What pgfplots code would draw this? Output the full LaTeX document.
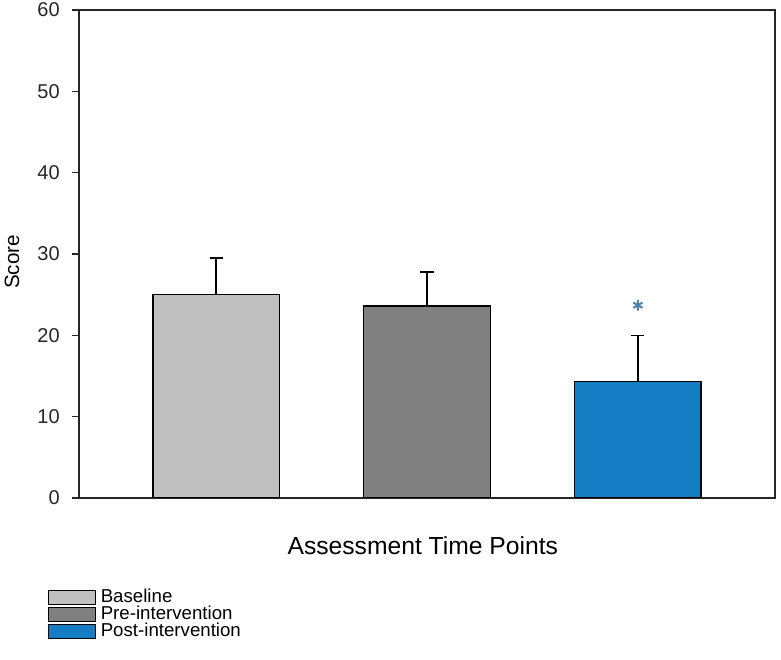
\documentclass[border=0pt]{standalone}
\usepackage{pgfplots}
\pgfplotsset{compat=1.18}
\usepackage{fontspec}
\setmainfont{Liberation Sans}
\usetikzlibrary{calc}
\definecolor{cBase}{RGB}{192,192,192}
\definecolor{cPre}{RGB}{128,128,128}
\definecolor{cPost}{RGB}{20,125,195}
\definecolor{cStar}{RGB}{70,130,180}
\begin{document}
\begin{tikzpicture}
\begin{axis}[
  scale only axis,
  width=522pt, height=366pt,
  xmin=0.35, xmax=3.65,
  ymin=0, ymax=60,
  xtick=\empty,
  ytick={0,10,...,60},
  ytick pos=left,
  tick align=outside,
  major tick length=5.25pt,
  axis line style={line width=1.2pt, black!85},
  every tick/.style={line width=1.2pt, black!85},
  /pgf/number format/assume math mode=true,
  yticklabel style={font=\fontsize{15pt}{17pt}\selectfont, color=black!85, inner sep=0pt, xshift=-9pt},
  ylabel={Score},
  ylabel style={font=\fontsize{15.5pt}{17pt}\selectfont, at={(axis description cs:-0.0963,0.484)}, anchor=center},
  xlabel={Assessment Time Points},
  xlabel style={font=\fontsize{18.5pt}{21pt}\selectfont, at={(rel axis cs:0.494,0)}, anchor=center, yshift=-36pt},
  legend cell align=left,
  legend style={at={(rel axis cs:0,0)}, anchor=north west, xshift=-23.25pt, yshift=-69pt,
    draw=none, fill=none, inner sep=0pt, row sep=1.6pt, column sep=3.5pt,
    font=\fontsize{14pt}{15pt}\selectfont,
    nodes={inner sep=0pt, text height=9pt, text depth=1.8pt, anchor=west}},
  legend image code/.code={\draw[#1, draw=black, line width=0.9pt] (0pt,-5pt) rectangle (35pt,5.2pt);},
  error bars/y dir=plus,
  error bars/y explicit,
  error bars/error bar style={line width=1.2pt, black},
  error bars/error mark options={rotate=90, mark size=4.9pt, line width=1.2pt, black},
]
\addplot[ybar, bar shift=0pt, bar width=0.6, fill=cBase, draw=black, line width=1.1pt]
  coordinates {(1,25.0) +- (0,4.5)};
\addlegendentry{Baseline}
\addplot[ybar, bar shift=0pt, bar width=0.6, fill=cPre, draw=black, line width=1.1pt]
  coordinates {(2,23.6) +- (0,4.2)};
\addlegendentry{Pre-intervention}
\addplot[ybar, bar shift=0pt, bar width=0.6, fill=cPost, draw=black, line width=1.1pt]
  coordinates {(3,14.3) +- (0,5.7)};
\addlegendentry{Post-intervention}
\addplot[only marks, mark=asterisk, mark size=4pt, color=cStar, line width=1.5pt, forget plot, error bars/y dir=none]
  coordinates {(3,23.7)};
\end{axis}
\pgfresetboundingbox
\path ($(current axis.south west)+(-59.25pt,-121.5pt)$) rectangle ($(current axis.north east)+(4.5pt,7.5pt)$);
\end{tikzpicture}
\end{document}
